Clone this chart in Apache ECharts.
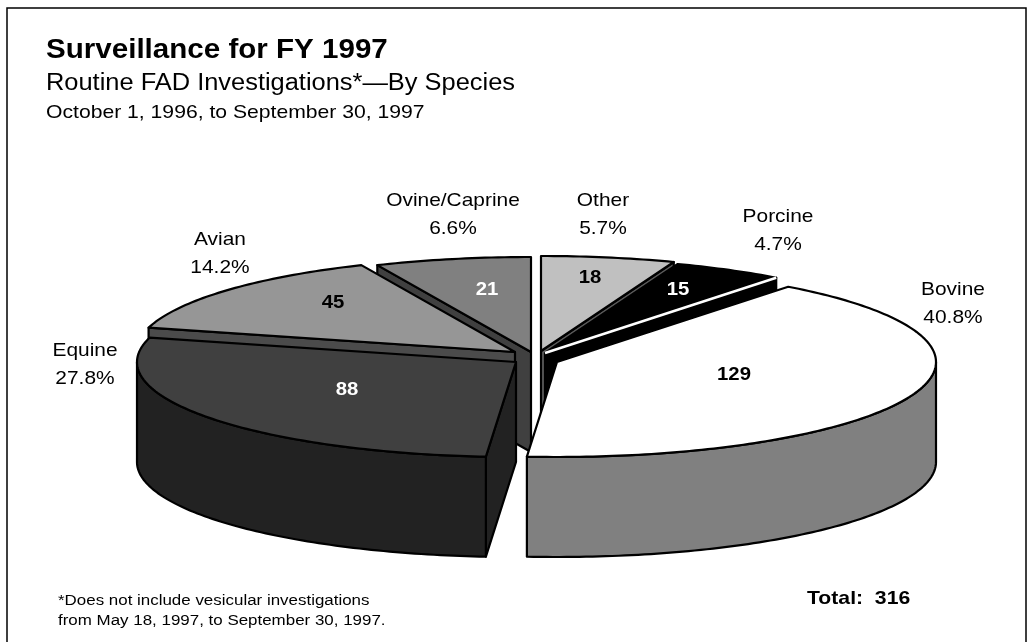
<!DOCTYPE html>
<html>
<head>
<meta charset="utf-8">
<title>Surveillance for FY 1997</title>
<script src="https://cdn.jsdelivr.net/npm/echarts@6/dist/echarts.min.js"></script>
<style>html,body{margin:0;padding:0;background:#fff}#c{width:1034px;height:642px}</style>
</head>
<body>
<div id="c"></div>
<script>
// Data, clockwise from 12 o'clock
const categories = ['Other', 'Porcine', 'Bovine', 'Equine', 'Avian', 'Ovine/Caprine'];
const counts = [18, 15, 129, 88, 45, 21];
const percentLabels = ['5.7%', '4.7%', '40.8%', '27.8%', '14.2%', '6.6%'];
const titleText = 'Surveillance for FY 1997';
const subtitleText = 'Routine FAD Investigations*\u2014By Species';
const dateText = 'October 1, 1996, to September 30, 1997';
const footnoteLines = ['*Does not include vesicular investigations', 'from May 18, 1997, to September 30, 1997.'];
const totalText = 'Total:  316';

// Layout and style (not data)
const FONT = '"Liberation Sans", Arial, sans-serif';
const RX = 379, RY = 95, DEPTH = 100, WIDEN = 1.1;
const sliceStyle = {
  'Other':         {apex: [541, 351], top: '#c0c0c0', side: '#5a5a5a', num: '#000', numPos: [590, 278], outer: [603, 201]},
  'Porcine':       {apex: [545, 353], top: '#000000', side: '#000000', num: '#fff', numPos: [678, 290], outer: [778, 217], edge: '#fff'},
  'Bovine':        {apex: [557, 362], top: '#ffffff', side: '#808080', num: '#000', numPos: [734, 375], outer: [953, 290]},
  'Equine':        {apex: [516, 362], top: '#404040', side: '#222222', num: '#fff', numPos: [347, 390], outer: [85, 351]},
  'Avian':         {apex: [515, 352], top: '#969696', side: '#4b4b4b', num: '#000', numPos: [333, 303], outer: [220, 240]},
  'Ovine/Caprine': {apex: [531, 352], top: '#808080', side: '#404040', num: '#fff', numPos: [487, 290], outer: [453, 201]}
};

const total = counts.reduce((a, b) => a + b, 0);
const angles = [];
counts.reduce((acc, v, i) => { angles[i] = [acc / total * 360, (acc + v) / total * 360]; return acc + v; }, 0);
const rad = d => d * Math.PI / 180;
const rimPt = (apex, deg, dz) => [apex[0] + RX * Math.sin(rad(deg)), apex[1] - RY * Math.cos(rad(deg)) + (dz || 0)];
const arc = (apex, a, b, dz) => {
  const pts = [], n = Math.max(2, Math.ceil(Math.abs(b - a)));
  for (let k = 0; k <= n; k++) pts.push(rimPt(apex, a + (b - a) * k / n, dz));
  return pts;
};
const poly = (points, fill, z2) => ({type: 'polygon', z2, shape: {points},
  style: {fill, stroke: '#000', lineWidth: 2.2, lineJoin: 'round'}});
const txt = (text, x, y, fill, size, weight, align, sx) => ({type: 'text', z2: 50, x, y, scaleX: sx || WIDEN,
  silent: true,
  style: {text, x: 0, y: 0, fill, font: (weight || 'normal') + ' ' + size + 'px ' + FONT,
    align: align || 'center', verticalAlign: 'middle'}});

function renderSlice(params, api) {
  const i = api.value(0);
  const name = categories[i];
  const s = sliceStyle[name];
  const [a0, a1] = angles[i];
  const apex = s.apex;
  const kids = [];
  // radial cut faces that turn toward the viewer
  const face = deg => {
    const e = rimPt(apex, deg);
    return poly([apex, e, [e[0], e[1] + DEPTH], [apex[0], apex[1] + DEPTH]], s.side, 1);
  };
  if (a0 > 180) kids.push(face(a0));
  if (a1 < 180) kids.push(face(a1));
  // outer wall on the front half
  const r0 = Math.max(a0, 90), r1 = Math.min(a1, 270);
  if (r1 > r0) {
    kids.push(poly(arc(apex, r0, r1).concat(arc(apex, r1, r0, DEPTH)), s.side, 2));
  }
  // top face
  kids.push(poly([apex].concat(arc(apex, a0, a1)), s.top, 3));
  if (s.edge) {
    const e = rimPt(apex, a1);
    kids.push({type: 'line', z2: 4, shape: {x1: apex[0], y1: apex[1], x2: e[0], y2: e[1]},
      style: {stroke: s.edge, lineWidth: 2.5}});
  }
  kids.push(txt(String(api.value(1)), s.numPos[0], s.numPos[1], s.num, 18.5, 'bold'));
  kids.push(txt(name, s.outer[0], s.outer[1], '#000', 19));
  kids.push(txt(percentLabels[i], s.outer[0], s.outer[1] + 28, '#000', 19));
  return {type: 'group', children: kids};
}

// paint from the back of the pie to the front
const midFromTop = i => { const m = (angles[i][0] + angles[i][1]) / 2; return Math.min(m, 360 - m); };
const paintOrder = categories.map((c, i) => i).sort((p, q) => midFromTop(p) - midFromTop(q));

const chart = echarts.init(document.getElementById('c'), null, {renderer: 'canvas'});
chart.setOption({
  backgroundColor: '#fff',
  animation: false,
  graphic: [
    {type: 'polyline', shape: {points: [[7, 642], [7, 8], [1026, 8], [1026, 642]]}, style: {stroke: '#000', lineWidth: 1.5, fill: null}, silent: true},
    txt(titleText, 46, 51, '#000', 27, 'bold', 'left', 1.095),
    txt(subtitleText, 46, 84, '#000', 23, 'normal', 'left', 1.105),
    txt(dateText, 46, 113, '#000', 19, 'normal', 'left', 1.113),
    txt(footnoteLines[0], 58, 601, '#000', 15.4, 'normal', 'left', 1.1),
    txt(footnoteLines[1], 58, 621, '#000', 15.4, 'normal', 'left', 1.1),
    txt(totalText, 807, 599, '#000', 19, 'bold', 'left', 1.115)
  ],
  series: [{
    type: 'custom',
    coordinateSystem: 'none',
    renderItem: renderSlice,
    data: paintOrder.map(i => [i, counts[i]])
  }]
});
</script>
</body>
</html>
